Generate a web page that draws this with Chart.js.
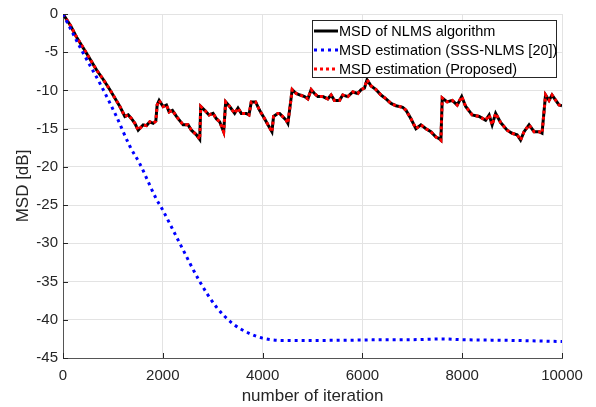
<!DOCTYPE html>
<html>
<head>
<meta charset="utf-8">
<script src="https://cdn.jsdelivr.net/npm/chart.js@4"></script>
<style>
  html, body { margin: 0; padding: 0; background: #fff; }
  #wrap { width: 596px; height: 407px; }
</style>
</head>
<body>
<div id="wrap"><canvas id="msdChart" width="596" height="407"></canvas></div>
<script>
// ===== Data =====
const nlmsIter = [0, 150, 270, 450, 670, 800, 940, 1140, 1240, 1307, 1373, 1440, 1507, 1607, 1673, 1740, 1807, 1860, 1887, 1927,
    2007, 2073, 2127, 2193, 2273, 2407, 2507, 2573, 2673, 2740, 2760, 2840, 2927, 3007, 3073, 3140, 3220, 3260, 3340, 3440,
    3507, 3573, 3673, 3727, 3773, 3860, 3940, 4040, 4107, 4187, 4220, 4307, 4340, 4473, 4507, 4593, 4673, 4753, 4840, 4907,
    4973, 5040, 5107, 5207, 5307, 5373, 5440, 5540, 5607, 5707, 5807, 5907, 5973, 6040, 6093, 6173, 6273, 6373, 6473, 6573,
    6673, 6807, 6873, 6973, 7073, 7173, 7273, 7373, 7473, 7540, 7573, 7600, 7700, 7800, 7900, 7990, 8070, 8200, 8340, 8470,
    8540, 8600, 8670, 8770, 8900, 9000, 9100, 9170, 9240, 9340, 9440, 9540, 9600, 9670, 9740, 9800, 9940, 10000];
const nlmsMsd = [0, -1.5, -3.0, -4.9, -7.3, -8.5, -9.9, -12.1, -13.4, -13.2, -13.7, -14.3, -15.2, -14.5, -14.6, -14.1, -14.3, -14.0, -11.9, -11.3,
    -12.1, -11.9, -12.8, -12.6, -13.4, -14.5, -14.5, -15.2, -15.8, -16.4, -12.1, -12.6, -13.2, -13.0, -13.7, -14.1, -15.4, -11.5, -12.1, -13.0,
    -12.3, -13.0, -13.0, -13.2, -11.5, -11.5, -12.6, -13.7, -14.5, -15.4, -13.4, -13.0, -13.0, -13.9, -14.3, -9.9, -10.4, -10.6, -10.8, -11.1,
    -9.9, -10.4, -10.8, -10.8, -11.1, -10.6, -11.3, -11.3, -10.6, -10.8, -10.2, -10.4, -9.9, -9.7, -8.6, -9.4, -9.9, -10.6, -11.1, -11.7,
    -12.0, -12.2, -12.6, -13.7, -15.0, -14.5, -15.0, -15.4, -16.1, -16.3, -16.5, -11.0, -11.5, -11.3, -11.9, -10.8, -12.1, -13.2, -13.4, -13.9,
    -13.2, -14.5, -13.0, -14.2, -15.2, -15.6, -15.8, -16.5, -15.4, -14.5, -15.4, -15.4, -15.6, -10.6, -11.3, -10.6, -11.9, -12.0];
// proposed estimate sits on top of the NLMS curve
const proposedMsd = nlmsMsd.slice();

const sssIter = [0, 370, 750, 1070, 1340, 1540, 1870, 1970, 2340, 2740, 3070, 3400, 3740, 4000, 4400, 5000, 6000, 6500, 7000, 7600, 8000, 9000, 10000];
const sssMsd = [0, -4.7, -9.2, -13.4, -17.3, -19.6, -24.2, -25.3, -30.0, -35.0, -38.3, -40.5, -41.8, -42.4, -42.7, -42.7, -42.65, -42.6, -42.6, -42.5, -42.6, -42.7, -42.85];

const xTicks = [0, 2000, 4000, 6000, 8000, 10000];
const yTicks = [0, -5, -10, -15, -20, -25, -30, -35, -40, -45];

const toPts = (xs, ys) => xs.map((x, i) => ({ x: x, y: ys[i] }));

const FONT = '"Liberation Sans", Arial, Helvetica, sans-serif';

// legend box drawn inside the plot, MATLAB style
const legendBox = {
    id: 'legendBox',
    afterDraw(chart) {
        const ctx = chart.ctx;
        const x0 = 312, y0 = 20, w = 244, h = 57;
        ctx.save();
        ctx.fillStyle = '#fff';
        ctx.fillRect(x0, y0, w, h);
        ctx.strokeStyle = '#262626';
        ctx.lineWidth = 1;
        ctx.strokeRect(x0 + 0.5, y0 + 0.5, w, h);
        [0, 1, 2].forEach((di, i) => {
            const ds = chart.data.datasets[di];
            const yy = y0 + 11 + i * 19;
            ctx.strokeStyle = ds.borderColor;
            ctx.lineWidth = ds.borderWidth;
            ctx.setLineDash(ds.borderDash || []);
            ctx.beginPath();
            ctx.moveTo(314, yy);
            ctx.lineTo(338, yy);
            ctx.stroke();
            ctx.setLineDash([]);
            ctx.fillStyle = '#000';
            ctx.font = '14.5px ' + FONT;
            ctx.textBaseline = 'middle';
            ctx.fillText(ds.label, 339, yy + 1);
        });
        ctx.restore();
    }
};

// inward tick marks
const innerTicks = {
    id: 'innerTicks',
    afterDatasetsDraw(chart) {
        const { ctx, chartArea: a, scales: { x, y } } = chart;
        ctx.save();
        ctx.strokeStyle = '#262626';
        ctx.lineWidth = 1;
        ctx.beginPath();
        xTicks.forEach(v => {
            const px = Math.round(x.getPixelForValue(v)) + 0.5;
            ctx.moveTo(px, a.bottom);
            ctx.lineTo(px, a.bottom - 5);
        });
        yTicks.forEach(v => {
            const py = Math.round(y.getPixelForValue(v)) + 0.5;
            ctx.moveTo(a.left, py);
            ctx.lineTo(a.left + 5, py);
        });
        ctx.stroke();
        ctx.restore();
    }
};

new Chart(document.getElementById('msdChart').getContext('2d'), {
    type: 'line',
    data: {
        datasets: [
            {
                label: 'MSD of NLMS algorithm',
                data: toPts(nlmsIter, nlmsMsd),
                borderColor: '#000000',
                borderWidth: 3,
                pointRadius: 0,
                tension: 0,
                order: 3
            },
            {
                label: 'MSD estimation (SSS-NLMS [20])',
                data: toPts(sssIter, sssMsd),
                borderColor: '#0000ff',
                borderWidth: 3,
                borderDash: [3, 4],
                pointRadius: 0,
                cubicInterpolationMode: 'monotone',
                order: 1
            },
            {
                label: 'MSD estimation (Proposed)',
                data: toPts(nlmsIter, proposedMsd),
                borderColor: '#ff0000',
                borderWidth: 3,
                borderDash: [3, 3],
                pointRadius: 0,
                tension: 0,
                order: 2
            }
        ]
    },
    options: {
        responsive: false,
        animation: false,
        layout: { padding: { left: 0, top: 14, right: 34, bottom: 0 } },
        plugins: { legend: { display: false }, tooltip: { enabled: false } },
        scales: {
            x: {
                type: 'linear',
                min: 0, max: 10000,
                afterBuildTicks: s => { s.ticks = xTicks.map(v => ({ value: v })); },
                afterFit: s => { s.height = 49; },
                grid: { color: '#e3e3e3', drawTicks: false },
                border: { color: '#555555', width: 1 },
                ticks: { color: '#262626', font: { family: FONT, size: 15 }, padding: 9, maxRotation: 0,
                         callback: v => String(v) },
                title: { display: true, text: 'number of iteration', color: '#262626', font: { family: FONT, size: 17 }, padding: { top: 0, bottom: 0 } }
            },
            y: {
                type: 'linear',
                min: -45, max: 0,
                afterBuildTicks: s => { s.ticks = yTicks.map(v => ({ value: v })); },
                afterFit: s => { s.width = 63; },
                grid: { color: '#e3e3e3', drawTicks: false },
                border: { color: '#555555', width: 1 },
                ticks: { color: '#262626', font: { family: FONT, size: 15 }, padding: 5,
                         callback: v => String(v) },
                title: { display: true, text: 'MSD [dB]', color: '#262626', font: { family: FONT, size: 17 }, padding: { top: 13, bottom: 0 } }
            }
        }
    },
    plugins: [innerTicks, legendBox]
});
</script>
</body>
</html>
